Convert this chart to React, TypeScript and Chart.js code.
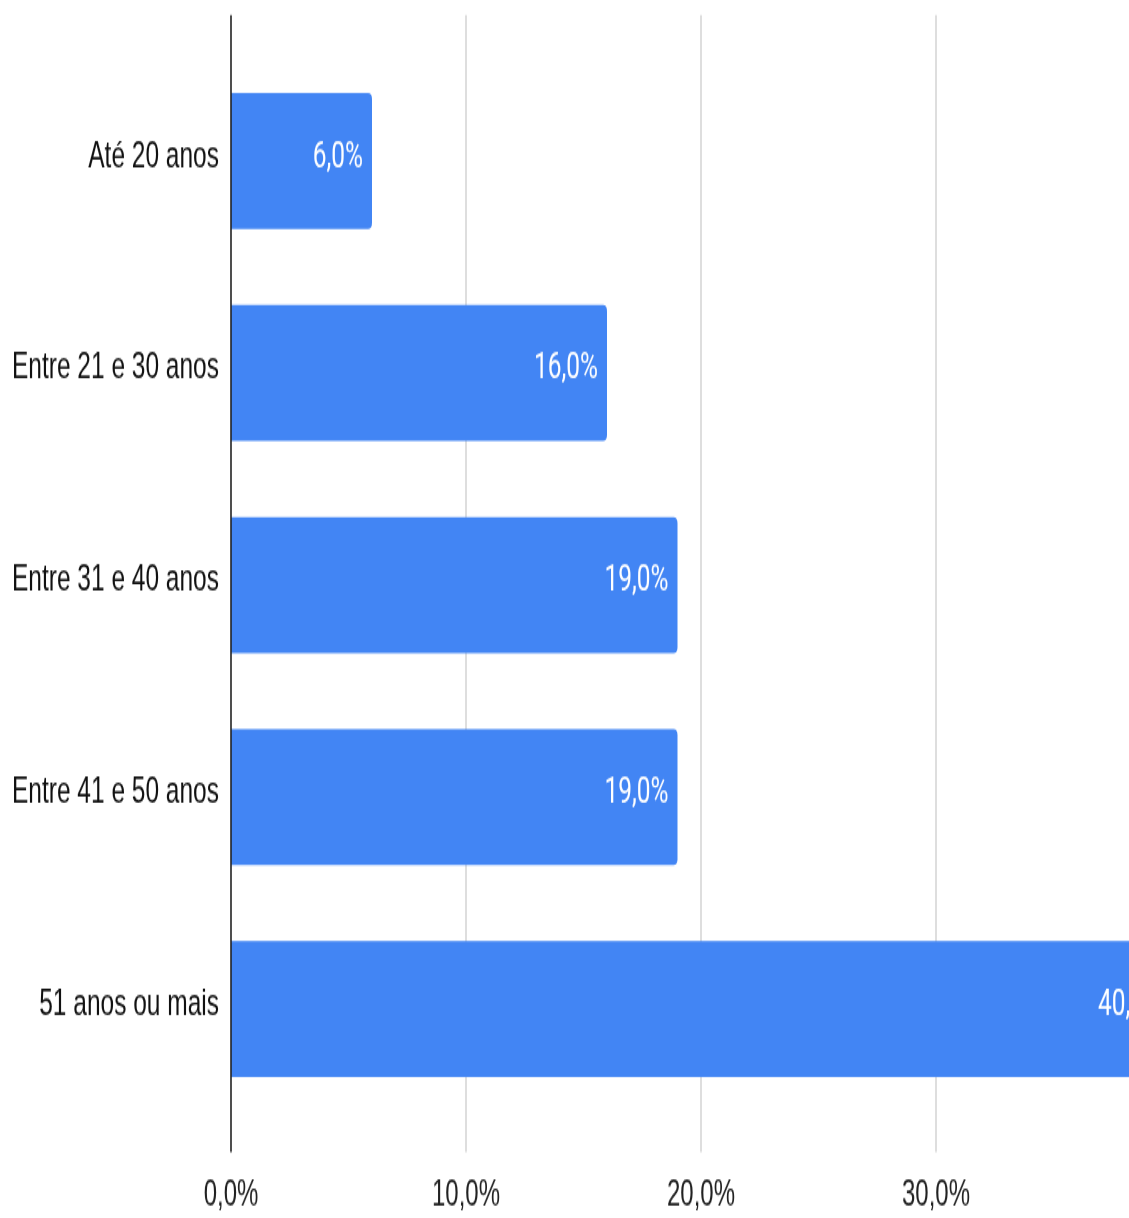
import React, { useEffect, useRef } from "react";
import { Chart, registerables } from "chart.js";

Chart.register(...registerables);

const categories = [
  "Até 20 anos",
  "Entre 21 e 30 anos",
  "Entre 31 e 40 anos",
  "Entre 41 e 50 anos",
  "51 anos ou mais",
];
const values = [6, 16, 19, 19, 40];
const xTickValues = [0, 10, 20, 30, 40];

const VIEW_W = 1129;
const VIEW_H = 1218;
const CANVAS_W = 1230;
const CANVAS_H = 786;
const S = VIEW_H / CANVAS_H; // vertical stretch of the reference

const BAR_COLOR = "#4285F4";
const GRID_COLOR = "#cccccc";
const AXIS_COLOR = "#222222";
const LABEL_FONT = "'Liberation Sans', Arial, sans-serif";
const VALUE_FONT = "Roboto, 'Noto Sans', sans-serif";

const fmt = (v: number) => v.toFixed(1).replace(".", ",") + "%";

const gridPlugin = {
  id: "extendedGrid",
  beforeDatasetsDraw(chart: any) {
    const { ctx } = chart;
    const x = chart.scales.x;
    const top = 15 / S;
    const bottom = 1152 / S;
    ctx.save();
    ctx.strokeStyle = GRID_COLOR;
    ctx.lineWidth = 1.3;
    x.ticks.forEach((t: any) => {
      if (t.value === 0) return;
      const px = x.getPixelForValue(t.value);
      ctx.beginPath();
      ctx.moveTo(px, top);
      ctx.lineTo(px, bottom);
      ctx.stroke();
    });
    ctx.restore();
  },
  afterDatasetsDraw(chart: any) {
    const { ctx } = chart;
    const x = chart.scales.x;
    const top = 15 / S;
    const bottom = 1152 / S;
    ctx.save();
    ctx.strokeStyle = AXIS_COLOR;
    ctx.lineWidth = 1.6;
    const px0 = x.getPixelForValue(0);
    ctx.beginPath();
    ctx.moveTo(px0, top);
    ctx.lineTo(px0, bottom);
    ctx.stroke();

    ctx.fillStyle = "#ffffff";
    ctx.font = `24.5px ${VALUE_FONT}`;
    ctx.textAlign = "right";
    ctx.textBaseline = "middle";
    const meta = chart.getDatasetMeta(0);
    meta.data.forEach((bar: any, i: number) => {
      ctx.fillText(fmt(values[i]), bar.x - 9, bar.y - 2.5);
    });
    ctx.restore();
  },
};

export default function App() {
  const canvasRef = useRef<HTMLCanvasElement | null>(null);

  useEffect(() => {
    if (!canvasRef.current) return;
    const chart = new Chart(canvasRef.current, {
      type: "bar",
      data: {
        labels: categories,
        datasets: [
          {
            data: values,
            backgroundColor: BAR_COLOR,
            borderRadius: { topRight: 4, bottomRight: 4, topLeft: 0, bottomLeft: 0 },
            borderSkipped: false,
            categoryPercentage: 1,
            barPercentage: 0.6415,
          },
        ],
      },
      options: {
        indexAxis: "y",
        responsive: false,
        animation: false,
        devicePixelRatio: 1,
        layout: { padding: { top: 55 / S, right: CANVAS_W - 1171, bottom: 0, left: 0 } },
        plugins: {
          legend: { display: false },
          tooltip: { enabled: false },
        },
        scales: {
          x: {
            type: "linear",
            min: 0,
            max: 40,
            grid: { display: false, drawTicks: false },
            border: { display: false },
            afterBuildTicks(scale: any) {
              scale.ticks = xTickValues.map((v) => ({ value: v }));
            },
            afterFit(scale: any) {
              scale.height = CANVAS_H - 1115 / S;
              scale.paddingLeft = 0;
              scale.paddingRight = 0;
            },
            ticks: {
              padding: 37.5,
              maxRotation: 0,
              autoSkip: false,
              color: "#222222",
              font: { family: LABEL_FONT, size: 24 },
              callback: (v: any) => fmt(Number(v)),
            },
          },
          y: {
            type: "category",
            grid: { display: false, drawTicks: false },
            border: { display: false },
            afterFit(scale: any) {
              scale.width = 231;
            },
            ticks: {
              padding: 12,
              labelOffset: -3,
              color: "#111111",
              font: { family: LABEL_FONT, size: 24.5 },
            },
          },
        },
      },
      plugins: [gridPlugin],
    });
    return () => chart.destroy();
  }, []);

  return (
    <div
      style={{
        position: "absolute",
        left: 0,
        top: 0,
        width: VIEW_W,
        height: VIEW_H,
        overflow: "hidden",
        background: "#ffffff",
      }}
    >
      <div style={{ transform: `scaleY(${S})`, transformOrigin: "0 0", width: CANVAS_W, height: CANVAS_H }}>
        <canvas ref={canvasRef} width={CANVAS_W} height={CANVAS_H} />
      </div>
    </div>
  );
}
